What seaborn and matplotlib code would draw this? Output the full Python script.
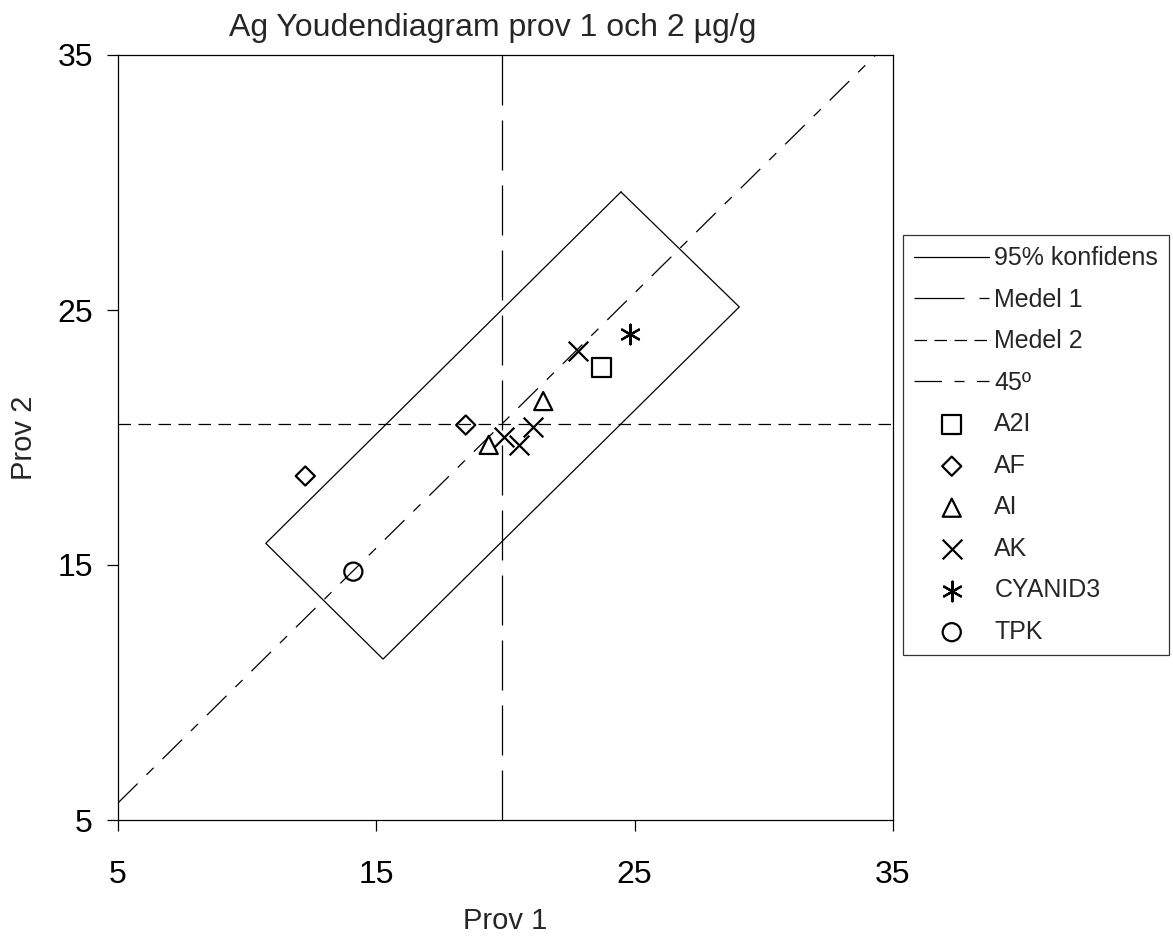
import matplotlib
matplotlib.use("Agg")
import matplotlib.pyplot as plt
import seaborn as sns
import pandas as pd

# ---- data ----
labs = ["A2I", "AF", "AI", "AK", "CYANID3", "TPK"]
prov1 = {
    "A2I": [23.70],
    "AF": [18.46, 12.25],
    "AI": [19.35, 21.46],
    "AK": [22.79, 21.08, 20.51, 19.94],
    "CYANID3": [24.82],
    "TPK": [14.11],
}
prov2 = {
    "A2I": [22.76],
    "AF": [20.49, 18.49],
    "AI": [19.71, 21.43],
    "AK": [23.39, 20.42, 19.71, 20.01],
    "CYANID3": [24.07],
    "TPK": [14.74],
}
medel1 = 19.85
medel2 = 20.52
conf_x = [24.47, 29.05, 15.26, 10.72, 24.47]
conf_y = [29.63, 25.12, 11.31, 15.85, 29.63]
ticks = [5, 15, 25, 35]

markers = {"A2I": "s", "AF": "D", "AI": "^", "AK": "x", "CYANID3": (6, 2, 0), "TPK": "o"}
msize = {"A2I": 190, "AF": 95, "AI": 170, "AK": 200, "CYANID3": 200, "TPK": 170}

sns.set_theme(style="white")
plt.rcParams["font.family"] = ["Liberation Sans", "DejaVu Sans"]

fig = plt.figure(figsize=(11.73, 9.40), dpi=100)
ax = fig.add_axes([118 / 1173, 120 / 940, 775 / 1173, 765 / 940])

# confidence rectangle
sns.lineplot(x=conf_x, y=conf_y, sort=False, estimator=None, ax=ax,
             color="black", linewidth=0.9, label="95% konfidens")
# mean lines
ax.axvline(medel1, color="black", linewidth=0.9, linestyle=(0, (40, 12)), label="Medel 1")
ax.axhline(medel2, color="black", linewidth=0.9, linestyle=(0, (10, 6)), label="Medel 2")
ax.axline((medel1, medel2), slope=1, color="black", linewidth=0.9,
          linestyle=(0, (22, 10, 8, 10)), label="45º")

for lab in labs:
    df = pd.DataFrame({"p1": prov1[lab], "p2": prov2[lab]})
    m = markers[lab]
    if lab in ("AK", "CYANID3"):
        sns.scatterplot(data=df, x="p1", y="p2", ax=ax, marker=m, s=msize[lab],
                        color="black", linewidth=1.6, label=lab, zorder=5)
    else:
        sns.scatterplot(data=df, x="p1", y="p2", ax=ax, marker=m, s=msize[lab],
                        facecolor="none", edgecolor="black", linewidth=1.6,
                        label=lab, zorder=5)

ax.set_xlim(5, 35)
ax.set_ylim(5, 35)
ax.set_xticks(ticks)
ax.set_yticks(ticks)
ax.set_xticklabels([str(t) for t in ticks])
ax.set_yticklabels([str(t) for t in ticks])
ax.tick_params(axis="both", direction="out", length=8, width=0.9, colors="black",
               labelsize=23)
ax.tick_params(axis="x", pad=21, bottom=True)
ax.tick_params(axis="y", pad=10, left=True)
for s in ax.spines.values():
    s.set_color("black")
    s.set_linewidth(0.9)

ax.set_xlabel("Prov 1", fontsize=21, labelpad=12)
ax.set_ylabel("Prov 2", fontsize=21, labelpad=14)
ax.set_title("Ag Youdendiagram prov 1 och 2 µg/g", fontsize=23, pad=14, x=0.483)

handles, labels_ = ax.get_legend_handles_labels()
if ax.get_legend():
    ax.get_legend().remove()
leg = fig.legend(handles, labels_, loc="upper left", bbox_to_anchor=(903 / 1173, 1 - 235 / 940),
                 fontsize=18, frameon=True, fancybox=False, edgecolor="black",
                 handlelength=3.0, labelspacing=0.7, borderpad=0.45, handletextpad=0.2,
                 borderaxespad=0)
leg.get_frame().set_linewidth(0.9)

fig.savefig("out.png", dpi=100)
